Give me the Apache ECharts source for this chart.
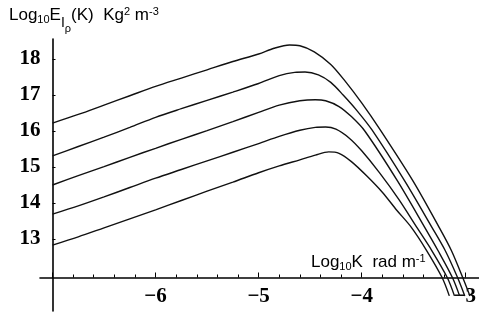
<!DOCTYPE html>
<html>
<head>
<meta charset="utf-8">
<script src="https://cdn.jsdelivr.net/npm/echarts@6/dist/echarts.min.js"></script>
<style>html,body{margin:0;padding:0;background:#fff}#c{width:479px;height:320px}</style>
</head>
<body>
<div id="c"></div>
<script>
// Data (Log10 K, Log10 E)
var curve1 = [[-7,16.22],[-6.75,16.46],[-6.5,16.72],[-6.25,16.98],[-6,17.24],[-5.75,17.47],[-5.5,17.7],[-5.25,17.93],[-5,18.14],[-4.85,18.3],[-4.7,18.39],[-4.6,18.37],[-4.46,18.2],[-4.3,17.85],[-4.17,17.42],[-4.0,16.78],[-3.82,16.03],[-3.5,14.6],[-3.25,13.33],[-3.13,12.68],[-3.02,11.93],[-2.95,11.42]];
var curve2 = [[-7,15.31],[-6.75,15.57],[-6.5,15.83],[-6.25,16.1],[-6,16.38],[-5.75,16.62],[-5.5,16.85],[-5.25,17.08],[-5,17.32],[-4.8,17.54],[-4.65,17.63],[-4.55,17.64],[-4.42,17.56],[-4.3,17.35],[-4.18,17.0],[-4.05,16.58],[-3.9,16.03],[-3.58,14.6],[-3.32,13.33],[-3.19,12.68],[-3.07,11.93],[-3.0,11.42]];
var curve3 = [[-7,14.5],[-6.75,14.76],[-6.5,15.01],[-6.25,15.27],[-6,15.52],[-5.75,15.77],[-5.5,16.01],[-5.25,16.26],[-5,16.52],[-4.8,16.72],[-4.6,16.84],[-4.45,16.87],[-4.35,16.84],[-4.22,16.68],[-4.1,16.4],[-3.97,16.0],[-3.65,14.6],[-3.39,13.33],[-3.26,12.68],[-3.12,11.93],[-3.05,11.42]];
var curve4 = [[-7,13.69],[-6.75,13.92],[-6.5,14.17],[-6.25,14.43],[-6,14.69],[-5.75,14.93],[-5.5,15.17],[-5.25,15.41],[-5,15.65],[-4.8,15.85],[-4.6,16.02],[-4.45,16.1],[-4.35,16.11],[-4.25,16.05],[-4.12,15.8],[-4.0,15.45],[-3.83,14.85],[-3.64,14.1],[-3.46,13.3],[-3.32,12.68],[-3.17,11.93],[-3.1,11.42]];
var curve5 = [[-7,12.83],[-6.75,13.06],[-6.5,13.31],[-6.25,13.56],[-6,13.81],[-5.75,14.07],[-5.5,14.33],[-5.25,14.58],[-5,14.84],[-4.8,15.03],[-4.6,15.2],[-4.45,15.33],[-4.32,15.42],[-4.22,15.38],[-4.1,15.15],[-3.95,14.75],[-3.8,14.3],[-3.66,13.8],[-3.52,13.33],[-3.37,12.68],[-3.22,11.93],[-3.15,11.42]];

var xMajorTicks = [-7,-6,-5,-4,-3];
var xTickLabels = [-6,-5,-4,-3];
var xMinorTicks = [-6.8,-6.6,-6.4,-6.2,-5.8,-5.6,-5.4,-5.2,-4.8,-4.6,-4.4,-4.2,-3.8,-3.6,-3.4,-3.2];
var yTicks = [13,14,15,16,17,18];

var chart = echarts.init(document.getElementById('c'), null, {renderer:'canvas'});
var serifFont = "'Liberation Serif','Times New Roman',serif";
var sansFont = "'Liberation Sans',Arial,sans-serif";
var black = '#000';

function richStyles(){
  var base = {fontFamily:sansFont,color:black,fontWeight:'normal',verticalAlign:'bottom'};
  return {
    b: Object.assign({fontSize:17,lineHeight:17,padding:[0,0,11,0]}, base),
    s: Object.assign({fontSize:11,lineHeight:11,padding:[0,0,9.5,0]}, base),
    i: Object.assign({fontSize:14,lineHeight:14,padding:[0,0,4.75,0]}, base),
    r: Object.assign({fontSize:11,lineHeight:11,padding:[0,0,0.9,0]}, base),
    p: Object.assign({fontSize:11,lineHeight:11,padding:[0,0,17.4,0]}, base)
  };
}

var lineSeries = [curve1,curve2,curve3,curve4,curve5].map(function(d){
  return {type:'line',data:d,xAxisIndex:0,yAxisIndex:0,symbol:'none',smooth:0.3,
    lineStyle:{color:'#111',width:1.4},silent:true,clip:false};
});

chart.setOption({
  animation:false,
  backgroundColor:'#fff',
  title:[
    {text:'{b|Log}{s|10}{b|E}{i|I}{r|ρ}{b|(K)  Kg}{p|2}{b| m}{p|-3}',left:9,top:18,padding:0,
      textStyle:{fontWeight:'normal',rich:richStyles()}},
    {text:'{b|Log}{s|10}{b|K  rad m}{p|-1}',left:311,top:265,padding:0,
      textStyle:{fontWeight:'normal',rich:richStyles()}}
  ],
  grid:[
    {left:52.5,top:39,width:426.4,height:272,containLabel:false},
    {left:40,top:39,width:439,height:238.5,containLabel:false}
  ],
  xAxis:[
    {type:'value',gridIndex:0,min:-7,max:-2.9,position:'bottom',offset:-33.5,
      axisLine:{show:false},splitLine:{show:false},
      axisTick:{show:true,inside:true,length:5,customValues:xMajorTicks,lineStyle:{color:black,width:1}},
      axisLabel:{show:true,customValues:xTickLabels,margin:9,fontFamily:serifFont,fontWeight:'bold',fontSize:21,color:black,
        formatter:function(v){return String(v).replace('-','\u2212');}}},
    {type:'value',gridIndex:0,min:-7,max:-2.9,position:'bottom',offset:-33.5,
      axisLine:{show:false},splitLine:{show:false},axisLabel:{show:false},
      axisTick:{show:true,inside:true,length:3,customValues:xMinorTicks,lineStyle:{color:black,width:1}}},
    {type:'value',gridIndex:1,min:0,max:1,position:'bottom',
      axisLine:{show:true,lineStyle:{color:black,width:1.6}},axisTick:{show:false},axisLabel:{show:false},splitLine:{show:false}}
  ],
  yAxis:[
    {type:'value',gridIndex:0,min:11,max:18.556,position:'left',
      axisLine:{show:true,lineStyle:{color:black,width:1.6}},splitLine:{show:false},
      axisTick:{show:true,inside:true,length:3,customValues:yTicks,lineStyle:{color:black,width:1}},
      axisLabel:{show:true,customValues:yTicks,margin:12,fontFamily:serifFont,fontWeight:'bold',fontSize:21,color:black}},
    {type:'value',gridIndex:1,show:false}
  ],
  series:lineSeries
});
</script>
</body>
</html>
